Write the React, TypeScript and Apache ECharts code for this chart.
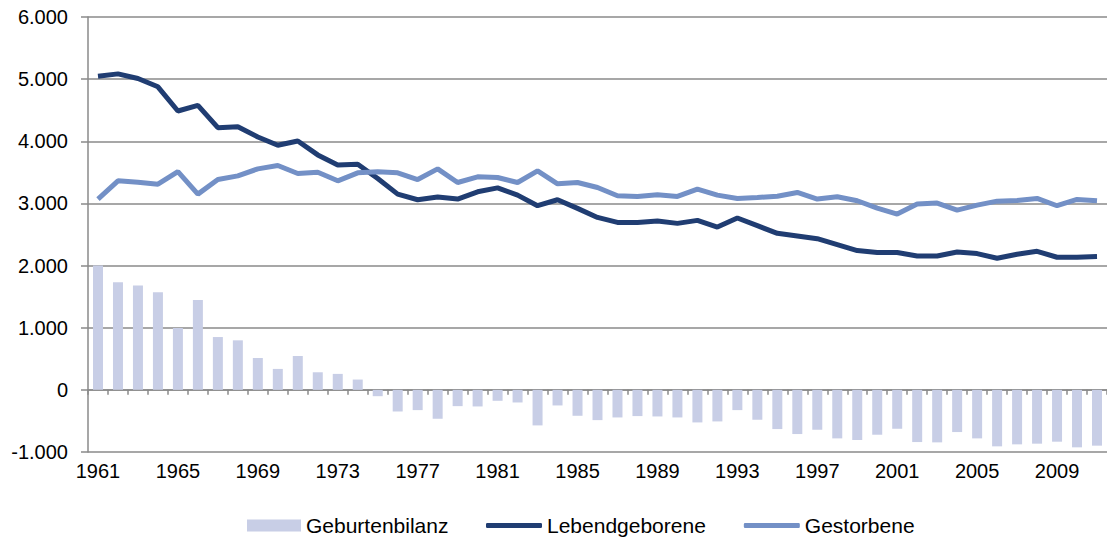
import React, { useEffect, useRef } from "react";
import * as echarts from "echarts";

const years: string[] = [];
for (let y = 1961; y <= 2011; y++) years.push(String(y));

const lebendgeborene = [
  5048, 5085, 5010, 4877, 4487, 4578, 4219, 4235, 4070, 3936,
  4005, 3781, 3620, 3631, 3401, 3150, 3059, 3105, 3070, 3187,
  3251, 3134, 2963, 3059, 2920, 2775, 2695, 2695, 2717, 2679,
  2727, 2620, 2765, 2642, 2519, 2476, 2433, 2337, 2241, 2209,
  2209, 2155, 2155, 2219, 2193, 2118, 2182, 2230, 2134, 2134,
  2144,
];

const gestorbene = [
  3070, 3364, 3342, 3310, 3513, 3150, 3385, 3444, 3556, 3610,
  3481, 3503, 3364, 3492, 3508, 3492, 3385, 3556, 3337, 3428,
  3417, 3337, 3524, 3316, 3337, 3257, 3123, 3112, 3139, 3112,
  3230, 3134, 3080, 3096, 3115, 3176, 3070, 3107, 3043, 2925,
  2829, 2989, 3005, 2893, 2973, 3037, 3048, 3080, 2963, 3064,
  3043,
];

const geburtenbilanz = [
  2000, 1733, 1679, 1572, 995, 1444, 850, 797, 513, 337,
  545, 283, 257, 166, -102, -348, -326, -465, -262, -267,
  -176, -203, -572, -251, -417, -487, -444, -422, -428, -444,
  -524, -508, -326, -481, -631, -711, -642, -781, -807, -722,
  -626, -840, -845, -679, -781, -909, -877, -866, -834, -925,
  -898,
];

const seriesNames = ["Geburtenbilanz", "Lebendgeborene", "Gestorbene"];

const fmt = (v: number) => {
  const s = String(Math.abs(v)).replace(/\B(?=(\d{3})+(?!\d))/g, ".");
  return (v < 0 ? "-" : "") + s;
};

const GRID_COLOR = "#8a8a8a";
const FONT = "Liberation Sans, Arial, sans-serif";

export default function App() {
  const ref = useRef<HTMLDivElement>(null);
  useEffect(() => {
    if (!ref.current) return;
    const chart = echarts.init(ref.current, undefined, { renderer: "svg" });
    const legendText = { fontSize: 21, color: "#000", fontFamily: FONT };
    chart.setOption({
      animation: false,
      backgroundColor: "#ffffff",
      textStyle: { fontFamily: FONT },
      grid: { left: 88, top: 17, width: 1020, height: 435, containLabel: false },
      legend: [
        {
          left: 242,
          top: 510,
          itemWidth: 54,
          itemHeight: 12,
          itemGap: 36,
          textStyle: legendText,
          data: [{ name: seriesNames[0], icon: "rect" }],
        },
        {
          left: 481,
          top: 510,
          itemWidth: 56,
          itemHeight: 5,
          itemGap: 38,
          itemStyle: { borderWidth: 0 },
          lineStyle: { width: 0 },
          textStyle: legendText,
          data: [
            { name: seriesNames[1], icon: "roundRect" },
            { name: seriesNames[2], icon: "roundRect" },
          ],
        },
      ],
      xAxis: {
        type: "category",
        data: years,
        boundaryGap: true,
        axisLine: { onZero: true, lineStyle: { color: GRID_COLOR, width: 1.5 } },
        axisTick: {
          show: true,
          interval: 0,
          alignWithLabel: false,
          length: 5,
          lineStyle: { color: GRID_COLOR, width: 1.5 },
        },
        axisLabel: {
          interval: 3,
          margin: 9,
          fontSize: 20,
          color: "#000",
          fontFamily: FONT,
        },
        splitLine: { show: false },
      },
      yAxis: {
        type: "value",
        min: -1000,
        max: 6000,
        interval: 1000,
        axisLine: { show: true, lineStyle: { color: GRID_COLOR, width: 1.5 } },
        axisTick: { show: true, length: 7, lineStyle: { color: GRID_COLOR, width: 1.5 } },
        axisLabel: {
          formatter: (v: number) => fmt(v),
          margin: 20,
          fontSize: 20,
          color: "#000",
          fontFamily: FONT,
        },
        splitLine: { show: true, lineStyle: { color: GRID_COLOR, width: 1.5 } },
      },
      series: [
        {
          name: seriesNames[0],
          type: "bar",
          data: geburtenbilanz,
          barWidth: 10,
          itemStyle: { color: "#c8cee6" },
        },
        {
          name: seriesNames[1],
          type: "line",
          data: lebendgeborene,
          symbol: "none",
          lineStyle: { color: "#203d72", width: 5 },
          itemStyle: { color: "#203d72" },
        },
        {
          name: seriesNames[2],
          type: "line",
          data: gestorbene,
          symbol: "none",
          lineStyle: { color: "#7390c6", width: 5 },
          itemStyle: { color: "#7390c6" },
        },
      ],
    });
    return () => chart.dispose();
  }, []);
  return (
    <div
      ref={ref}
      style={{ position: "absolute", left: 0, top: 0, width: 1107, height: 543 }}
    />
  );
}
